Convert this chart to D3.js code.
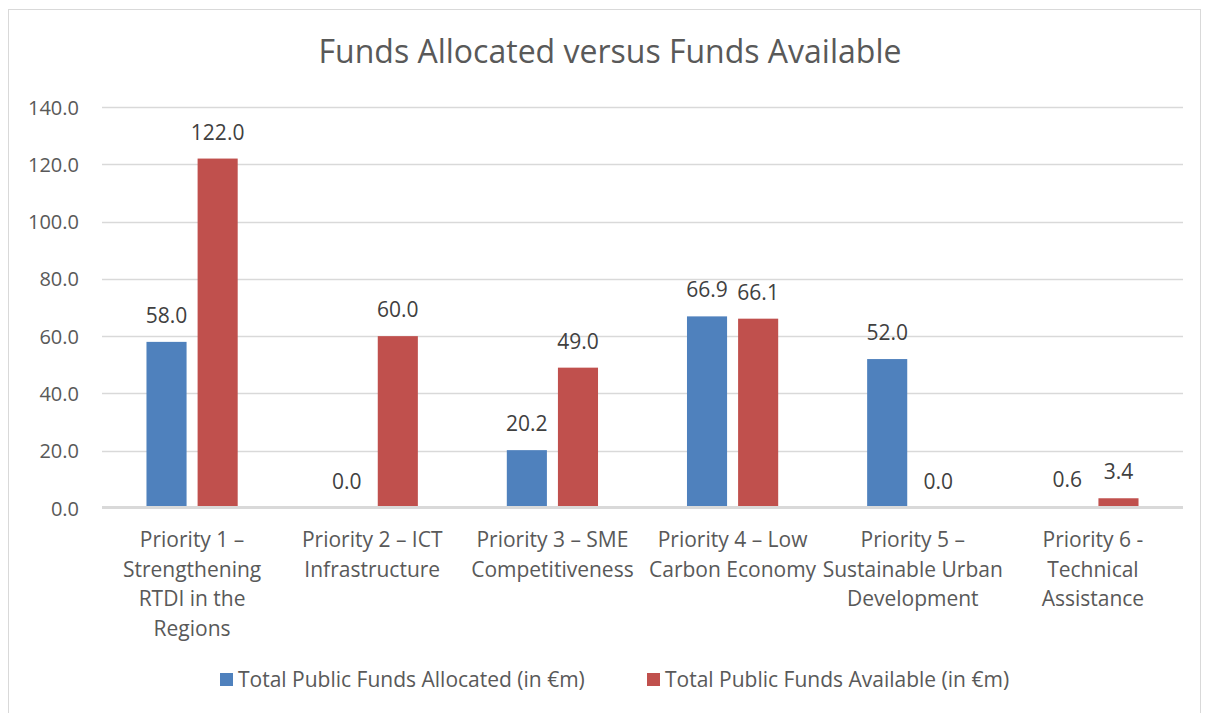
<!DOCTYPE html>
<html>
<head>
<meta charset="utf-8">
<script src="https://cdn.jsdelivr.net/npm/d3@7"></script>
<style>
  body { margin: 0; background: #fff; }
  svg text { font-family: "Open Sans", "Noto Sans", sans-serif; }
</style>
</head>
<body>
<div id="chart"></div>
<script>
// chart data
const categories = [
  ['Priority 1 –', 'Strengthening', 'RTDI in the', 'Regions'],
  ['Priority 2 – ICT', 'Infrastructure'],
  ['Priority 3 – SME', 'Competitiveness'],
  ['Priority 4 – Low', 'Carbon Economy'],
  ['Priority 5 –', 'Sustainable Urban', 'Development'],
  ['Priority 6 -', 'Technical', 'Assistance']
];
const allocated = [58.0, 0.0, 20.2, 66.9, 52.0, 0.6];
const available = [122.0, 60.0, 49.0, 66.1, 0.0, 3.4];
const seriesNames = ['Total Public Funds Allocated (in €m)', 'Total Public Funds Available (in €m)'];
const seriesColors = ['#4f81bd', '#c0504d'];
const yTicks = [0, 20, 40, 60, 80, 100, 120, 140];

const width = 1206;
const height = 713;
const plot = { left: 102, right: 1183, top: 107, bottom: 508 };

const svg = d3.select('#chart').append('svg')
  .attr('width', width)
  .attr('height', height);

// outer chart border
svg.append('rect')
  .attr('x', 8.5).attr('y', 9.5)
  .attr('width', 1192).attr('height', 720)
  .attr('fill', '#fff')
  .attr('stroke', '#d9d9d9');

svg.append('text')
  .attr('x', 610).attr('y', 63)
  .attr('text-anchor', 'middle')
  .attr('font-size', 32)
  .attr('fill', '#595959')
  .text('Funds Allocated versus Funds Available');

const y = d3.scaleLinear().domain([0, 140]).range([plot.bottom, plot.top]);
const x = d3.scaleBand().domain(d3.range(categories.length)).range([plot.left, plot.right]);
const xSub = d3.scaleBand().domain([0, 1])
  .range([0, x.bandwidth()]).paddingInner(0.2157).paddingOuter(0.87);

// gridlines
svg.append('g').selectAll('line')
  .data(yTicks.filter(d => d > 0)).enter()
  .append('line')
  .attr('x1', plot.left).attr('x2', plot.right)
  .attr('y1', d => Math.round(y(d)) + 0.5).attr('y2', d => Math.round(y(d)) + 0.5)
  .attr('stroke', '#d9d9d9').attr('stroke-width', 1.5);

// y axis labels
const yAxis = svg.append('g')
  .attr('transform', 'translate(79,0)')
  .call(d3.axisLeft(y).tickValues(yTicks).tickFormat(d3.format('.1f')).tickSize(0).tickPadding(0));
yAxis.select('.domain').remove();
yAxis.selectAll('text')
  .attr('font-size', 20)
  .attr('fill', '#595959')
  .attr('dy', '0.35em')
  .style('font-family', '"Open Sans", "Noto Sans", sans-serif');

const series = [allocated, available];
const groups = svg.append('g').selectAll('g')
  .data(categories.map((c, i) => i)).enter()
  .append('g')
  .attr('transform', i => `translate(${x(i)},0)`);

groups.selectAll('rect')
  .data(i => series.map((s, k) => ({ k, v: s[i] }))).enter()
  .append('rect')
  .attr('x', d => xSub(d.k))
  .attr('width', xSub.bandwidth())
  .attr('y', d => y(d.v))
  .attr('height', d => y(0) - y(d.v))
  .attr('fill', d => seriesColors[d.k]);

groups.selectAll('text.val')
  .data(i => series.map((s, k) => ({ k, v: s[i] }))).enter()
  .append('text')
  .attr('class', 'val')
  .attr('x', d => xSub(d.k) + xSub.bandwidth() / 2)
  .attr('y', d => y(d.v) - 19)
  .attr('text-anchor', 'middle')
  .attr('font-size', 21)
  .attr('fill', '#404040')
  .text(d => d.v.toFixed(1));

// baseline (covers near-zero bars like Excel does)
svg.append('line')
  .attr('x1', plot.left).attr('x2', plot.right)
  .attr('y1', plot.bottom - 0.5).attr('y2', plot.bottom - 0.5)
  .attr('stroke', '#d9d9d9').attr('stroke-width', 3);

// category labels
const catLabels = svg.append('g').selectAll('text')
  .data(categories).enter()
  .append('text')
  .attr('x', (d, i) => x(i) + x.bandwidth() / 2)
  .attr('y', 547)
  .attr('text-anchor', 'middle')
  .attr('font-size', 21)
  .attr('fill', '#595959');
catLabels.selectAll('tspan')
  .data(d => d).enter()
  .append('tspan')
  .attr('x', function () { return d3.select(this.parentNode).attr('x'); })
  .attr('dy', (d, j) => j === 0 ? 0 : 29.5)
  .text(d => d);

// legend
const legendX = [220, 647];
const legend = svg.append('g').selectAll('g')
  .data(seriesNames).enter()
  .append('g')
  .attr('transform', (d, i) => `translate(${legendX[i]},673)`);
legend.append('rect')
  .attr('width', 13).attr('height', 13)
  .attr('fill', (d, i) => seriesColors[i]);
legend.append('text')
  .attr('x', 18).attr('y', 14)
  .attr('font-size', 21)
  .attr('fill', '#595959')
  .text(d => d);
</script>
</body>
</html>
